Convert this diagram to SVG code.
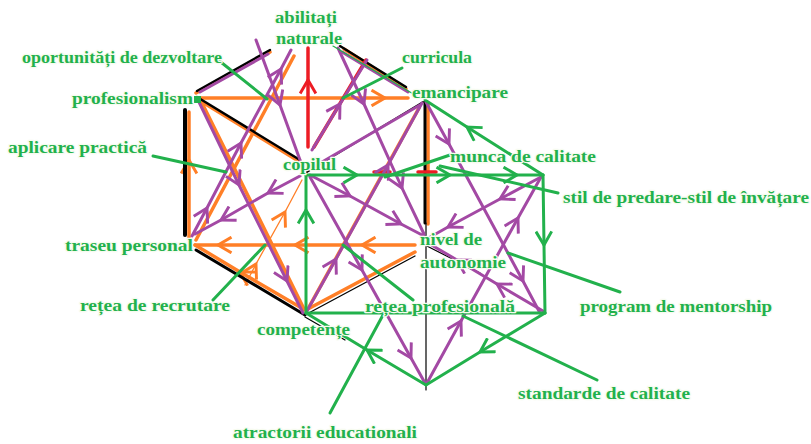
<svg xmlns="http://www.w3.org/2000/svg" width="811" height="444" viewBox="0 0 811 444">
<style>
.k{stroke:#000;fill:none;stroke-linecap:round}
.o{stroke:#ff7f27;fill:none;stroke-width:3.5;stroke-linecap:round}
.p{stroke:#a349a4;fill:none;stroke-width:3;stroke-linecap:round;stroke-linejoin:round}
.g{stroke:#22b14c;fill:none;stroke-width:3;stroke-linecap:round;stroke-linejoin:round}
.r{stroke:#ed1c24;fill:none;stroke-width:3.5;stroke-linecap:round}
.pa{marker-mid:url(#ap)}
.ga{marker-mid:url(#ag)}
.oa{marker-mid:url(#ao)}
.ra{marker-mid:url(#ar)}
text{font-family:"Liberation Serif","Times New Roman",serif;font-weight:bold;font-size:17px;fill:#22b14c;stroke:#f6fbef;stroke-width:2.5;paint-order:stroke;stroke-linejoin:round}
</style>
<defs>
<marker id="ap" viewBox="0 0 16 16" refX="13" refY="8" markerWidth="18" markerHeight="18" markerUnits="userSpaceOnUse" orient="auto"><path d="M1,1 L13,8 L1,15" fill="none" stroke="#a349a4" stroke-width="2.6"/></marker>
<marker id="ag" viewBox="0 0 16 16" refX="13" refY="8" markerWidth="18" markerHeight="18" markerUnits="userSpaceOnUse" orient="auto"><path d="M1,1 L13,8 L1,15" fill="none" stroke="#22b14c" stroke-width="2.6"/></marker>
<marker id="ao" viewBox="0 0 16 16" refX="13" refY="8" markerWidth="18" markerHeight="18" markerUnits="userSpaceOnUse" orient="auto"><path d="M1,1 L13,8 L1,15" fill="none" stroke="#ff7f27" stroke-width="2.6"/></marker>
<marker id="ar" viewBox="0 0 16 16" refX="13" refY="8" markerWidth="18" markerHeight="18" markerUnits="userSpaceOnUse" orient="auto"><path d="M1,1 L13,8 L1,15" fill="none" stroke="#ed1c24" stroke-width="2.6"/></marker>
</defs>
<rect width="811" height="444" fill="#fff"/>
<g id="connectors">
<!-- orange layer -->
<path class="o" d="M196,93 L270,52"/>
<path class="o" d="M344,49 L406,89"/>
<path class="o oa" d="M189,240 L189,160 L189,112"/>
<path class="o oa" d="M305,310 L240,272 L195,245"/>
<path class="o" d="M199,100 L300,162"/>
<path class="o" d="M428,104 L428,224"/>
<path class="o" d="M306,310 L415,252"/>
<path class="o oa" d="M198,98 L385,98 L408,98"/>
<path class="o oa" d="M415,245 L362,245 L295,245 L218,245 L195,245"/>
<path class="o" d="M294,56 L196,240"/>
<path class="o" d="M201,101 L304,309"/>
<path class="o" d="M419,108 L309,307"/>
<path class="o oa" d="M245,285 L256,264 L285,212 L302,180" style="stroke-width:1.3"/>
<!-- black layer -->
<path class="k" d="M197,91 L270,50" stroke-width="2.5"/>
<path class="k" d="M340,46 L406,87" stroke-width="2.5"/>
<path class="k" d="M185,110 L185,235" stroke-width="4"/>
<path class="k" d="M196,250 L305,315" stroke-width="3"/>
<path class="k" d="M197,97 L300,160" stroke-width="2.5"/>
<path class="k" d="M307,172 L423,102" stroke-width="2"/>
<path class="k" d="M425,102 L425,223" stroke-width="3"/>
<path class="k" d="M426,223 L426,390" stroke-width="1.2"/>
<path class="k" d="M305,315 L415,256" stroke-width="1.3"/>
<path class="k" d="M305,317 L345,340" stroke-width="1.2"/>
<path class="k" d="M421,243 L480,273" stroke-width="1.2"/>
<!-- red -->
<path class="r ra" d="M308,147 L308,80 L308,48"/>
<path class="r" d="M314,147 L366,60"/>
<path class="r" d="M374,172 L390,172" stroke-width="6"/>
<path class="r" d="M418,172 L436,172" stroke-width="5"/>
<!-- purple layer -->
<path class="p" d="M200,92 L268,54"/>
<path class="p" d="M342,52 L408,92"/>
<path class="p" d="M310,169 L420,105"/>
<path class="p pa" d="M192,236 L207,208 L241,143 L281,69 L291,50"/>
<path class="p pa" d="M198,100 L239,185 L287,281 L303,313"/>
<path class="p pa" d="M307,311 L336,259 L388,165 L422,103"/>
<path class="p pa" d="M338,48 L364,104 L402,188 L424,234"/>
<path class="p pa" d="M300,176 L268,193 L221,220 L195,234"/>
<path class="p pa" d="M310,175 L350,196 L401,224 L424,236"/>
<path class="p pa" d="M256,40 L280,105 L300,160"/>
<path class="p pa" d="M312,150 L340,104 L367,60"/>
<path class="p pa" d="M426,102 L449,144 L523,281 L540,313"/>
<path class="p pa" d="M541,177 L500,199 L448,227 L425,240"/>
<path class="p pa" d="M427,383 L461,321 L518,218 L541,177"/>
<path class="p pa" d="M543,311 L497,284 L457,260 L428,243"/>
<path class="p pa" d="M310,177 L362,270 L411,358 L425,383"/>
<!-- green structure -->
<path class="g ga" d="M306,175 L357,175 L450,175 L517,175 L543,175"/>
<path class="g ga" d="M306,313 L306,210 L306,175"/>
<path class="g" d="M306,313 L545,313"/>
<path class="g ga" d="M543,175 L544,245 L545,313"/>
<path class="g ga" d="M543,175 L467,127 L425,100"/>
<path class="g ga" d="M545,313 L480,352 L426,385"/>
<path class="g ga" d="M426,385 L367,350 L306,313"/>
<!-- green leaders -->
<path class="g" d="M217,59 L267,99"/>
<path class="g" d="M153,156 L226,172"/>
<path class="g" d="M402,68 L343,98"/>
<path class="g" d="M333,46 L420,98" style="stroke-width:1.3"/>
<path class="g" d="M385,177 L453,154"/>
<path class="g" d="M440,166 L558,193"/>
<path class="g" d="M508,253 L620,292"/>
<path class="g" d="M343,245 L413,300"/>
<path class="g" d="M463,316 L597,380"/>
<path class="g" d="M330,413 L383,315"/>
<path class="g" d="M213,300 L265,245"/>
<rect x="194" y="96" width="7" height="7" fill="#22b14c"/>
</g>
<g id="n-abilitati"><text x="275" y="23" textLength="62" lengthAdjust="spacingAndGlyphs">abilitați</text><text x="276" y="44" textLength="66" lengthAdjust="spacingAndGlyphs">naturale</text></g>
<g id="n-oportunitati"><text x="22" y="63" textLength="200" lengthAdjust="spacingAndGlyphs">oportunități de dezvoltare</text></g>
<g id="n-profesionalism"><text x="72" y="104" textLength="121" lengthAdjust="spacingAndGlyphs">profesionalism</text></g>
<g id="n-aplicare"><text x="8" y="153" textLength="139" lengthAdjust="spacingAndGlyphs">aplicare practică</text></g>
<g id="n-copilul"><text x="283" y="170" textLength="53" lengthAdjust="spacingAndGlyphs">copilul</text></g>
<g id="n-curricula"><text x="402" y="63" textLength="70" lengthAdjust="spacingAndGlyphs">curricula</text></g>
<g id="n-emancipare"><text x="412" y="98" textLength="96" lengthAdjust="spacingAndGlyphs">emancipare</text></g>
<g id="n-munca"><text x="450" y="162" textLength="146" lengthAdjust="spacingAndGlyphs">munca de calitate</text></g>
<g id="n-stil"><text x="563" y="203" textLength="246" lengthAdjust="spacingAndGlyphs">stil de predare-stil de învățare</text></g>
<g id="n-nivel"><text x="420" y="245" textLength="62" lengthAdjust="spacingAndGlyphs">nivel de</text><text x="420" y="268" textLength="86" lengthAdjust="spacingAndGlyphs">autonomie</text></g>
<g id="n-program"><text x="580" y="312" textLength="192" lengthAdjust="spacingAndGlyphs">program de mentorship</text></g>
<g id="n-retea-prof"><text x="365" y="312" textLength="150" lengthAdjust="spacingAndGlyphs">rețea profesională</text></g>
<g id="n-competente"><text x="257" y="335" textLength="93" lengthAdjust="spacingAndGlyphs">competențe</text></g>
<g id="n-retea-recrutare"><text x="80" y="311" textLength="150" lengthAdjust="spacingAndGlyphs">rețea de recrutare</text></g>
<g id="n-traseu"><text x="65" y="251" textLength="128" lengthAdjust="spacingAndGlyphs">traseu personal</text></g>
<g id="n-standarde"><text x="518" y="399" textLength="172" lengthAdjust="spacingAndGlyphs">standarde de calitate</text></g>
<g id="n-atractorii"><text x="233" y="438" textLength="184" lengthAdjust="spacingAndGlyphs">atractorii educationali</text></g>
</svg>
